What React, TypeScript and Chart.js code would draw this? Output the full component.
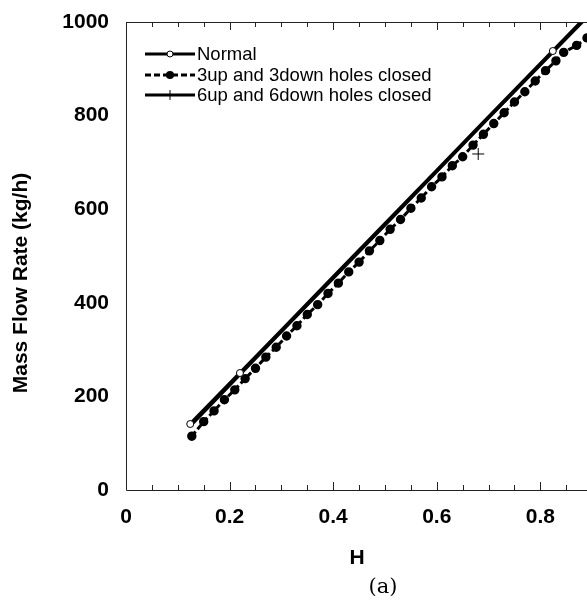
import React, { useEffect, useRef } from "react";
import { Chart, registerables } from "chart.js";

Chart.register(...registerables);

// ---- data ----
const normalH = [0.124, 0.22, 0.3, 0.4, 0.5, 0.6, 0.7, 0.824, 0.89];
const normalFlow = [141, 250, 341, 455, 569, 683, 797, 938, 1013];
const normalMarker = [1, 1, 0, 0, 0, 0, 0, 1, 0];

const closed3H = [0.127, 0.15, 0.17, 0.19, 0.21, 0.23, 0.25, 0.27, 0.29, 0.31, 0.33, 0.35, 0.37, 0.39, 0.41, 0.43, 0.45, 0.47, 0.49, 0.51, 0.53, 0.55, 0.57, 0.59, 0.61, 0.63, 0.65, 0.67, 0.69, 0.71, 0.73, 0.75, 0.77, 0.79, 0.81, 0.83, 0.845, 0.87, 0.89];
const closed3Flow = [115, 146, 169, 193, 214, 238, 260, 284, 305, 329, 351, 375, 396, 420, 442, 466, 487, 511, 533, 557, 578, 602, 624, 648, 669, 693, 712, 737, 760, 783, 806, 829, 851, 874, 896, 917, 935, 950, 966];

const closed6H = [0.13, 0.3, 0.5, 0.7, 0.89];
const closed6Flow = [143, 338, 566, 795, 1010];
const closed6PointH = [0.68];
const closed6PointFlow = [718];

const xTicks = [0, 0.2, 0.4, 0.6, 0.8];
const yTicks = [0, 200, 400, 600, 800, 1000];
const legendLabels = ["Normal", "3up and 3down holes closed", "6up and 6down holes closed"];

const toXY = (xs: number[], ys: number[]) => xs.map((x, i) => ({ x, y: ys[i] }));

const FONT = '"Liberation Sans", Arial, sans-serif';

const decoPlugin = {
  id: "deco",
  afterDraw(chart: any) {
    const { ctx, chartArea } = chart;
    const xs = chart.scales.x;
    const { left, right, top, bottom } = chartArea;
    ctx.save();
    ctx.strokeStyle = "#222";
    ctx.lineWidth = 1;
    ctx.beginPath();
    ctx.moveTo(left + 0.5, top);
    ctx.lineTo(left + 0.5, bottom + 0.5);
    ctx.lineTo(right, bottom + 0.5);
    ctx.moveTo(left, top + 0.5);
    ctx.lineTo(right, top + 0.5);
    for (let k = 1; k * 0.05 <= xs.max + 1e-9; k++) {
      const v = k * 0.05;
      const px = Math.round(xs.getPixelForValue(v)) + 0.5;
      const major = k % 4 === 0;
      const len = major ? 8 : 5;
      ctx.moveTo(px, bottom);
      ctx.lineTo(px, bottom - len);
      ctx.moveTo(px, top);
      ctx.lineTo(px, top + len);
    }
    ctx.stroke();

    // legend
    const rows = [54, 75, 95];
    const x0 = 145, x1 = 195;
    ctx.fillStyle = "#000";
    ctx.strokeStyle = "#000";
    rows.forEach((y, i) => {
      ctx.lineWidth = 3;
      ctx.setLineDash(i === 1 ? [6, 3] : []);
      ctx.beginPath();
      ctx.moveTo(x0, y);
      ctx.lineTo(x1, y);
      ctx.stroke();
      ctx.setLineDash([]);
      const cx = (x0 + x1) / 2;
      if (i === 0) {
        ctx.fillStyle = "#fff";
        ctx.lineWidth = 1;
        ctx.beginPath();
        ctx.arc(cx, y, 3, 0, Math.PI * 2);
        ctx.fill();
        ctx.stroke();
      } else if (i === 1) {
        ctx.fillStyle = "#000";
        ctx.beginPath();
        ctx.arc(cx, y, 4, 0, Math.PI * 2);
        ctx.fill();
      } else {
        ctx.lineWidth = 1;
        ctx.beginPath();
        ctx.moveTo(cx, y - 5);
        ctx.lineTo(cx, y + 5);
        ctx.stroke();
      }
      ctx.fillStyle = "#000";
      ctx.font = `18.5px ${FONT}`;
      ctx.textBaseline = "middle";
      ctx.textAlign = "left";
      ctx.fillText(legendLabels[i], x1 + 2, y + 1);
    });

    // axis titles
    ctx.font = `bold 21px ${FONT}`;
    ctx.textAlign = "center";
    ctx.textBaseline = "middle";
    ctx.save();
    ctx.translate(21, 283);
    ctx.rotate(-Math.PI / 2);
    ctx.fillText("Mass Flow Rate (kg/h)", 0, 0);
    ctx.restore();
    ctx.fillText("H", 357, 558);
    ctx.font = `21px "DejaVu Serif", serif`;
    ctx.fillText("(a)", 383, 588);
    ctx.restore();
  },
};

export default function App() {
  const ref = useRef<HTMLCanvasElement>(null);
  useEffect(() => {
    document.body.style.margin = "0";
    const chart = new Chart(ref.current!, {
      type: "scatter",
      data: {
        datasets: [
          {
            label: legendLabels[0],
            data: toXY(normalH, normalFlow),
            showLine: true,
            borderColor: "#000",
            borderWidth: 3.5,
            pointRadius: normalMarker.map((m) => (m ? 3.5 : 0)),
            pointBackgroundColor: "#fff",
            pointBorderColor: "#000",
            pointBorderWidth: 1,
          },
          {
            label: legendLabels[1],
            data: toXY(closed3H, closed3Flow),
            showLine: true,
            borderColor: "#000",
            borderWidth: 3,
            borderDash: [6, 3],
            pointRadius: 3.2,
            pointBackgroundColor: "#000",
            pointBorderColor: "#000",
          },
          {
            label: legendLabels[2],
            data: toXY(closed6H, closed6Flow),
            showLine: true,
            borderColor: "#000",
            borderWidth: 3,
            pointRadius: 0,
          },
          {
            label: legendLabels[2] + " points",
            data: toXY(closed6PointH, closed6PointFlow),
            showLine: false,
            pointStyle: "cross",
            pointRadius: 6,
            borderColor: "#000",
            pointBorderWidth: 1,
          },
        ],
      },
      options: {
        animation: false,
        responsive: false,
        devicePixelRatio: 1,
        layout: { autoPadding: false, padding: { top: 22, left: 0, right: 0, bottom: 0 } },
        plugins: { legend: { display: false }, tooltip: { enabled: false } },
        scales: {
          x: {
            type: "linear",
            min: 0,
            max: 0.89,
            afterBuildTicks: (s: any) => {
              s.ticks = xTicks.map((v) => ({ value: v }));
            },
            afterFit: (s: any) => {
              s.height = 111;
              s.paddingLeft = 0;
              s.paddingRight = 0;
            },
            grid: { display: false },
            border: { display: false },
            ticks: {
              color: "#000",
              font: { family: FONT, size: 21, weight: "bold" },
              padding: 7,
              maxRotation: 0,
              callback: (v: any) => String(v),
            },
          },
          y: {
            type: "linear",
            min: 0,
            max: 1000,
            afterBuildTicks: (s: any) => {
              s.ticks = yTicks.map((v) => ({ value: v }));
            },
            afterFit: (s: any) => {
              s.width = 126;
              s.paddingTop = 0;
              s.paddingBottom = 0;
            },
            grid: { display: false },
            border: { display: false },
            ticks: {
              color: "#000",
              font: { family: FONT, size: 21, weight: "bold" },
              padding: 9,
              callback: (v: any) => String(v),
            },
          },
        },
      },
      plugins: [decoPlugin],
    });
    return () => chart.destroy();
  }, []);
  return (
    <div style={{ width: 587, height: 601 }}>
      <canvas ref={ref} width={587} height={601} style={{ display: "block" }} />
    </div>
  );
}
